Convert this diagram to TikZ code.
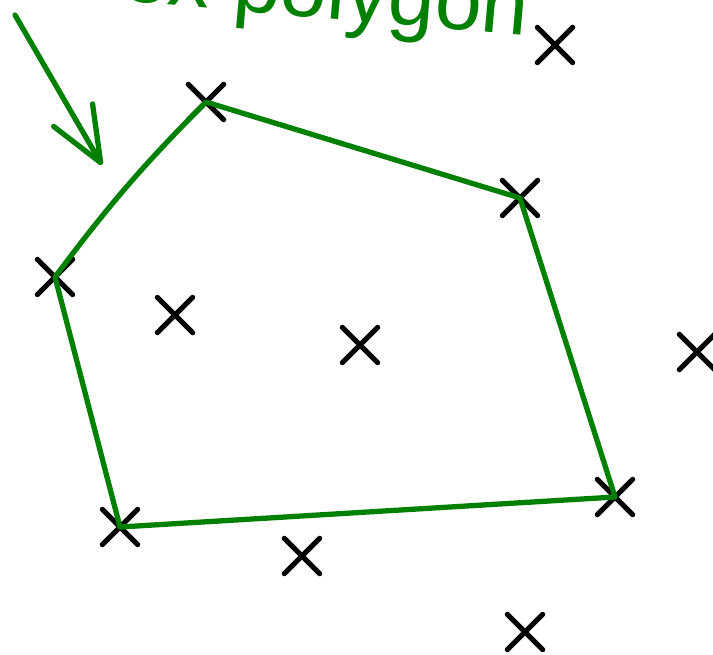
\documentclass[tikz,border=0pt]{standalone}
\usepackage{fontspec}
\setsansfont{Liberation Sans}
\usetikzlibrary{arrows.meta,shapes.misc}
\definecolor{PenGreen}{RGB}{0,128,0}
\tikzset{
  ptmark/.style={cross out,draw=black,line width=3pt,line cap=round,
    minimum size=0.6cm,inner sep=0pt},
  hull/.style={draw=PenGreen,line width=3pt,line cap=round,line join=round},
  pointer/.style={-{Straight Barb[length=1.1cm,width=0.9cm,line width=3pt,round]},
    draw=PenGreen,line width=3pt,line cap=round},
  headline/.style={text=PenGreen,font=\sffamily\fontsize{48}{48}\selectfont,inner sep=0pt}
}

\begin{document}
\begin{tikzpicture}[x=0.02cm,y=-0.02cm]
  \useasboundingbox (0,0) rectangle (713,655);
  \clip (0,0) rectangle (713,655);
  \node[headline,anchor=base east,rotate=-5] (heading) at (527,36) {convex polygon};
  \coordinate (arrowtail) at (15,15);
  \coordinate (arrowtip) at (102,165);
  \draw[pointer] (arrowtail) -- (arrowtip);
  % hull vertices
  \node[ptmark] (v1) at (206,102) {};
  \node[ptmark] (v2) at (520,198) {};
  \node[ptmark] (v3) at (615,497) {};
  \node[ptmark] (v4) at (120,527) {};
  \node[ptmark] (v5) at (55,277) {};
  % remaining points
  \node[ptmark] (q1) at (555,45) {};
  \node[ptmark] (q2) at (175,315) {};
  \node[ptmark] (q3) at (360,345) {};
  \node[ptmark] (q4) at (697,352) {};
  \node[ptmark] (q5) at (302,556) {};
  \node[ptmark] (q6) at (525,632) {};
  \draw[hull] (v5.center) to[bend left=4] (v1.center) -- (v2.center)
    -- (v3.center) -- (v4.center) -- cycle;
\end{tikzpicture}
\end{document}
